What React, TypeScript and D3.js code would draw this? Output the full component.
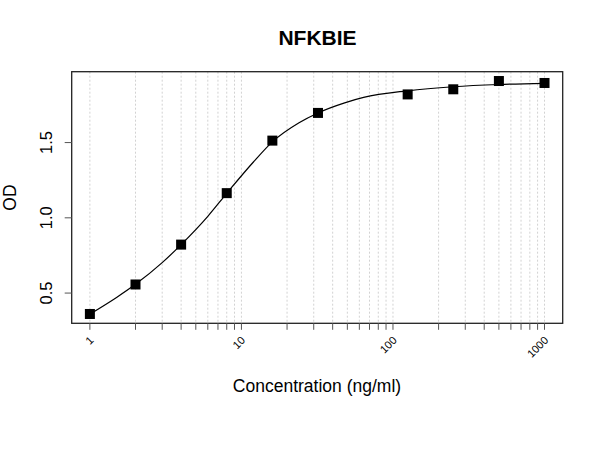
import * as d3 from "d3";

// measured standard points
const conc = [1, 2, 4, 8, 16, 32, 125, 250, 500, 1000];
const od = [0.361, 0.557, 0.822, 1.164, 1.513, 1.697, 1.82, 1.854, 1.909, 1.896];

// fitted curve
const fitConc = [1, 1.5, 2, 3, 4, 6, 8, 12, 16, 24, 32, 48, 64, 125, 250, 500, 1000];
const fitOd = [0.36, 0.471, 0.558, 0.702, 0.822, 1.01, 1.163, 1.371, 1.505, 1.632, 1.697, 1.764, 1.8, 1.844, 1.871, 1.886, 1.894];

const xTicks = [1, 10, 100, 1000];
const yTicks = [0.5, 1.0, 1.5];

export default function App() {
  const width = 600;
  const height = 450;
  const left = 71.7;
  const right = 562.7;
  const top = 71.7;
  const bottom = 323.3;

  // R style: extend the data range by 4% on each side
  const [lx0, lx1] = d3.extent(conc.map(Math.log10));
  const padX = (lx1 - lx0) * 0.04;
  const x = d3.scaleLog()
    .domain([Math.pow(10, lx0 - padX), Math.pow(10, lx1 + padX)])
    .range([left, right]);

  const [y0, y1] = d3.extent(od);
  const padY = (y1 - y0) * 0.04;
  const y = d3.scaleLinear()
    .domain([y0 - padY, y1 + padY])
    .range([bottom, top]);

  const minor = d3.range(0, 3).flatMap(p => d3.range(1, 10).map(m => m * Math.pow(10, p))).concat([1000]);

  const line = d3.line()
    .x((d, i) => x(fitConc[i]))
    .y((d, i) => y(fitOd[i]))
    .curve(d3.curveMonotoneX);

  const font = "'Liberation Sans', Arial, sans-serif";
  const sq = 10;

  return (
    <svg width={width} height={height} style={{ position: "absolute", left: 0, top: 0, background: "#fff" }} fontFamily={font}>
      <rect x={0} y={0} width={width} height={height} fill="#fff" />
      <text x={317.5} y={45} textAnchor="middle" fontSize={21} fontWeight="bold">NFKBIE</text>

      {minor.map(v => (
        <line key={"g" + v} x1={x(v)} x2={x(v)} y1={top} y2={bottom}
          stroke="#d2d2d2" strokeWidth={1} strokeDasharray="2,2" />
      ))}

      <path d={line(fitOd)} fill="none" stroke="#000" strokeWidth={1.2} />

      {conc.map((c, i) => (
        <rect key={"p" + i} x={x(c) - sq / 2} y={y(od[i]) - sq / 2} width={sq} height={sq} fill="#000" />
      ))}

      <rect x={left} y={top} width={right - left} height={bottom - top} fill="none" stroke="#222" strokeWidth={1.3} />

      {minor.map(v => (
        <line key={"t" + v} x1={x(v)} x2={x(v)} y1={bottom} y2={bottom + 6.5} stroke="#555" strokeWidth={1} />
      ))}
      {xTicks.map(v => (
        <text key={"xl" + v} transform={`translate(${x(v) + 4.5},${341}) rotate(-45)`}
          textAnchor="end" fontSize={11} fill="#000">{v}</text>
      ))}

      {yTicks.map(v => (
        <g key={"y" + v}>
          <line x1={left - 7} x2={left} y1={y(v)} y2={y(v)} stroke="#555" strokeWidth={1} />
          <text transform={`translate(52,${y(v)}) rotate(-90)`} textAnchor="middle" fontSize={16.5}>
            {v.toFixed(1)}
          </text>
        </g>
      ))}

      <text x={317} y={392} textAnchor="middle" fontSize={17.5}>Concentration (ng/ml)</text>
      <text transform={`translate(15.5,${(top + bottom) / 2}) rotate(-90)`} textAnchor="middle" fontSize={17.5}>OD</text>
    </svg>
  );
}
